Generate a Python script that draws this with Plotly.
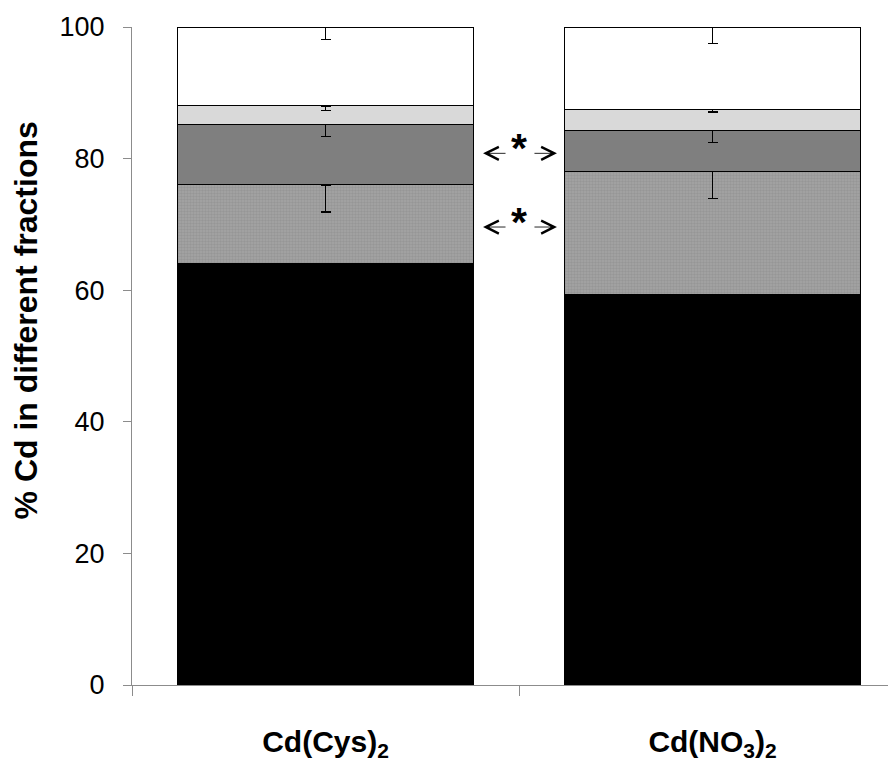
import plotly.graph_objects as go

categories = ["Cd(Cys)<sub>2</sub>", "Cd(NO<sub>3</sub>)<sub>2</sub>"]
tick_text = ["<b>Cd(Cys)<sub>2</sub></b>", "<b>Cd(NO<sub>3</sub>)<sub>2</sub></b>"]
fraction_names = ["F1", "F2", "F3", "F4", "F5"]
y_title = "<b>% Cd in different fractions</b>"
# segment values (% of Cd), bottom to top
f1 = [64.1, 59.3]
f2 = [11.9, 18.8]
f3 = [9.2, 6.2]
f4 = [2.8, 3.2]
f5 = [12.0, 12.5]
# minus error bars at top of each segment
e1 = [0.0, 0.0]
e2 = [4.1, 4.2]
e3 = [1.8, 1.8]
e4 = [0.7, 0.4]
e5 = [1.9, 2.5]
# significance markers (y positions of the arrow pairs)
sig_y = [80.8, 69.6]

series = [f1, f2, f3, f4, f5]
errors = [e1, e2, e3, e4, e5]
fills = ["#000000", "#9c9c9c", "#7f7f7f", "#d9d9d9", "#ffffff"]

FONT = "Liberation Sans, Arial, sans-serif"

fig = go.Figure()
for i, (vals, errs, col) in enumerate(zip(series, errors, fills)):
    marker = dict(color=col, line=dict(color="#000000", width=1))
    if i == 1:
        marker["pattern"] = dict(shape=".", fgcolor="#8a8a8a", bgcolor="#a3a3a3",
                                 size=3, solidity=0.5, fillmode="overlay")
    fig.add_trace(go.Bar(
        x=categories, y=vals, name=fraction_names[i], marker=marker,
        width=0.767,
        error_y=dict(type="data", symmetric=False, array=[0, 0], arrayminus=errs,
                     color="#000000", thickness=1.3, width=5,
                     visible=any(e > 0 for e in errs)),
        showlegend=False,
    ))

for yv in sig_y:
    fig.add_annotation(x=0.5, y=yv, xref="x", yref="y", text="<b>*</b>",
                       showarrow=False, yshift=5,
                       font=dict(family=FONT, size=41, color="#000000"))
    fig.add_annotation(x=0.407, y=yv, ax=0.469, ay=yv, xref="x", yref="y",
                       axref="x", ayref="y", text="", showarrow=True,
                       arrowhead=5, arrowsize=3, arrowwidth=0.85, arrowcolor="#000000")
    fig.add_annotation(x=0.598, y=yv, ax=0.536, ay=yv, xref="x", yref="y",
                       axref="x", ayref="y", text="", showarrow=True,
                       arrowhead=5, arrowsize=3, arrowwidth=0.85, arrowcolor="#000000")

# y-axis title (placed slightly above the axis centre, as in the original)
fig.add_annotation(x=0, y=0.554, xref="paper", yref="paper", text=y_title,
                   textangle=-90, showarrow=False, xanchor="center", yanchor="middle",
                   xshift=-106, font=dict(family=FONT, size=32, color="#000000"))

fig.update_layout(
    barmode="stack",
    width=888, height=757,
    margin=dict(l=124, r=0, t=19, b=80),
    plot_bgcolor="#ffffff", paper_bgcolor="#ffffff",
    font=dict(family=FONT, color="#000000"),
)
fig.update_xaxes(
    type="category", range=[-0.5, 1.474], tickson="boundaries",
    tickvals=categories, ticktext=tick_text,
    showline=True, linecolor="#8c8c8c", linewidth=1,
    ticks="outside", ticklen=10, tickcolor="#8c8c8c",
    tickfont=dict(size=30, family=FONT, color="#000000"),
    ticklabelstandoff=30, showgrid=False, zeroline=False,
)
fig.update_yaxes(
    range=[0, 100], tickvals=[0, 20, 40, 60, 80, 100],
    showline=True, linecolor="#8c8c8c", linewidth=1,
    ticks="outside", ticklen=8, tickcolor="#8c8c8c",
    tickfont=dict(size=27, family=FONT),
    ticklabelstandoff=13,
    showgrid=False, zeroline=False,
)

fig.write_html("out.html")
